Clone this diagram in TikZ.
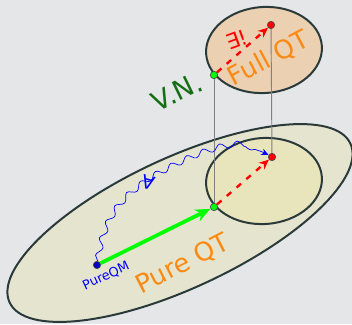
\documentclass[tikz,border=0pt]{standalone}
\usepackage{fontspec}
\setmainfont{DejaVu Sans}
\usetikzlibrary{arrows.meta,decorations.pathmorphing}

\definecolor{bgcol}{RGB}{229,230,232}
\definecolor{edgecol}{RGB}{42,58,58}
\definecolor{pureqtcol}{RGB}{229,229,207}
\definecolor{innercol}{RGB}{232,228,188}
\definecolor{fullqtcol}{RGB}{236,208,178}
\definecolor{tagcol}{RGB}{250,138,20}
\definecolor{vncol}{RGB}{20,110,20}

\begin{document}
\begin{tikzpicture}[x=0.03cm, y=-0.03cm,
  region/.style={draw=edgecol, line width=1.7pt},
  dot/.style={circle, draw=black!70, line width=0.6pt, inner sep=0pt, minimum size=0.22cm},
  tag/.style={font=\fontsize{22}{24}\selectfont, text=tagcol},
  proj/.style={draw=gray, line width=0.8pt},
  ext/.style={-{Stealth[length=0.3cm,width=0.26cm]}, red, line width=2pt, dash pattern=on 5pt off 6pt},
  evol/.style={-{Stealth[length=0.45cm,width=0.38cm]}, green, line width=3.2pt},
  wiggle/.style={blue, line width=0.6pt, decorate, decoration={snake, amplitude=0.09cm, segment length=0.52cm, post length=0.25cm}, -{Stealth[length=0.22cm,width=0.2cm]}}
]
\useasboundingbox (0,0) rectangle (352,324);
\fill[bgcol] (0,0) rectangle (352,324);
\clip (0,0) rectangle (352,324);

% regions
\draw[region, fill=pureqtcol] (180,223) ellipse [x radius=188, y radius=65, rotate=25];
\draw[region, fill=innercol] (264,181) ellipse [x radius=58, y radius=43, rotate=4];
\draw[region, fill=fullqtcol] (264,50) ellipse [x radius=58, y radius=43, rotate=4];

% points
\coordinate (vnlowc) at (214,207);
\coordinate (vnhighc) at (214,75);
\coordinate (fulllowc) at (272,157);
\coordinate (fullhighc) at (271,25);

\draw[proj] (vnlowc) -- (vnhighc);
\draw[proj] (fulllowc) -- (fullhighc);

\node[dot, fill=blue!75!black] (pureqm) at (97,265) {};
\node[dot, fill=green] (vnlow) at (vnlowc) {};
\node[dot, fill=green] (vnhigh) at (vnhighc) {};
\node[dot, fill=red] (fulllow) at (fulllowc) {};
\node[dot, fill=red] (fullhigh) at (fullhighc) {};

% labels
\node[tag, rotate=27] (pureqt) at (183,264) {Pure QT};
\node[tag, rotate=28] (fullqt) at (269,59) {Full QT};
\node[rotate=26, text=vncol, font=\fontsize{23}{23}\selectfont] (vn) at (177,92) {V.N.};
\node[rotate=25, text=blue, font=\fontsize{11}{11}\selectfont] (pqmlab) at (106,276) {PureQM};
\node[rotate=20, text=red, font=\fontsize{18}{18}\selectfont] (uniq) at (237,40) {∃!};
\node[rotate=-15, text=blue, font=\fontsize{16}{16}\selectfont] (forall) at (148,183) {∀};

% connectors
\draw[evol] (pureqm) -- (vnlow);
\draw[ext] (vnlow) -- (fulllow);
\draw[ext] (vnhigh) -- (fullhigh);
\draw[wiggle] (pureqm) .. controls (105,215) and (125,200) .. (forall.center) .. controls (180,165) and (235,135) .. (fulllow);
\end{tikzpicture}
\end{document}
